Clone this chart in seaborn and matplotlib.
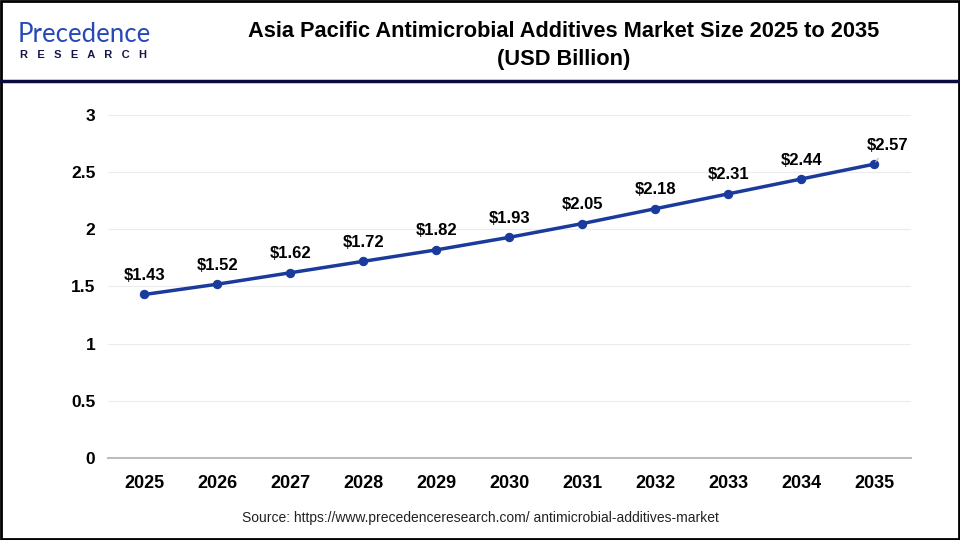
import matplotlib
matplotlib.use("Agg")
import matplotlib.pyplot as plt
import seaborn as sns
import pandas as pd
from matplotlib.patches import Rectangle
from matplotlib.lines import Line2D

# Chart data
years = [2025, 2026, 2027, 2028, 2029, 2030, 2031, 2032, 2033, 2034, 2035]
market_size = [1.43, 1.52, 1.62, 1.72, 1.82, 1.93, 2.05, 2.18, 2.31, 2.44, 2.57]
y_ticks = [0, 0.5, 1, 1.5, 2, 2.5, 3]
y_tick_labels = ["0", "0.5", "1", "1.5", "2", "2.5", "3"]

df = pd.DataFrame({"Year": years, "Size": market_size})

sns.set_style("white")
plt.rcParams['font.family'] = ['Liberation Sans', 'DejaVu Sans']
plt.rcParams['text.color'] = 'black'

fig = plt.figure(figsize=(9.6, 5.4), dpi=100)
ax = fig.add_axes([0.1125, 0.152, 0.836, 0.635])

sns.lineplot(data=df, x="Year", y="Size", ax=ax, color="#1a3a9c", linewidth=2.5,
             marker="o", markersize=6, markeredgecolor="#1a3a9c")

ax.set_xlim(2024.5, 2035.5)
ax.set_ylim(0, 3)
ax.set_xticks(years)
ax.set_xticklabels([str(y) for y in years], fontsize=13, fontweight="bold", color="black")
ax.set_yticks(y_ticks)
ax.set_yticklabels(y_tick_labels, fontsize=12.5, fontweight="bold", color="black")
ax.tick_params(axis="x", length=0, pad=12)
ax.tick_params(axis="y", length=0, pad=9)
ax.set_xlabel("")
ax.set_ylabel("")
ax.grid(axis="y", color="#ececec", linewidth=0.8)
ax.set_axisbelow(True)
for s in ["top", "right", "left"]:
    ax.spines[s].set_visible(False)
ax.spines["bottom"].set_color("#bdbdbd")
ax.spines["bottom"].set_linewidth(1.5)

# Value labels
for x, y in zip(years, market_size):
    if x == years[-1]:
        ax.annotate(f"${y:.2f}", xy=(x, y), xytext=(x + 0.18, y + 0.1),
                    ha="center", va="bottom", fontsize=12, fontweight="bold",
                    arrowprops=dict(arrowstyle="-", color="#bbbbbb", lw=0.8))
    else:
        ax.text(x, y + 0.1, f"${y:.2f}", ha="center", va="bottom",
                fontsize=12, fontweight="bold")

# Title
fig.text(0.587, 0.942, "Asia Pacific Antimicrobial Additives Market Size 2025 to 2035",
         ha="center", va="center", fontsize=15.7, fontweight="bold")
fig.text(0.587, 0.89, "(USD Billion)", ha="center", va="center",
         fontsize=15.7, fontweight="bold")

# Logo
fig.text(0.018, 0.922, "Precedence", ha="left", va="baseline", fontsize=18.5,
         color="#2748b8", family=["Lato", "DejaVu Sans"])
fig.text(0.021, 0.899, "R   E   S   E   A   R   C   H", ha="left", va="center", fontsize=8,
         color="#14164a", fontweight="bold")

# Source
fig.text(0.5, 0.04, "Source: https://www.precedenceresearch.com/ antimicrobial-additives-market",
         ha="center", va="center", fontsize=10, color="#222222")

# Header separator and border
fig.add_artist(Line2D([0, 1], [0.85, 0.85], transform=fig.transFigure,
                      color="#0c0c3c", linewidth=2.5))
fig.add_artist(Rectangle((0.001, 0.002), 0.998, 0.996, transform=fig.transFigure,
                         fill=False, edgecolor="black", linewidth=2))

fig.savefig("out.png", dpi=100)
